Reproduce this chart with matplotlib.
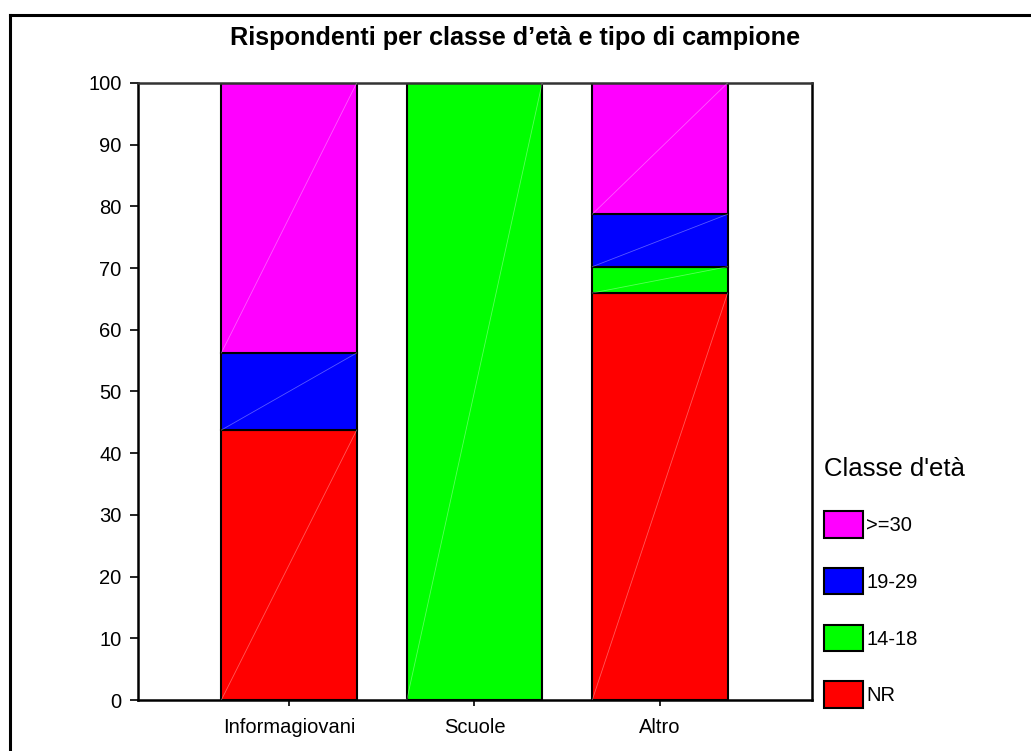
import matplotlib.pyplot as plt
from matplotlib.lines import Line2D
from matplotlib.patches import Patch
import numpy as np

plt.rcParams['font.family'] = ['Liberation Sans', 'DejaVu Sans']

# data (percent of respondents per sample type)
categories = ['Informagiovani', 'Scuole', 'Altro']
age_classes = ['NR', '14-18', '19-29', '>=30']
nr = [43.75, 0, 65.96]
eta_14_18 = [0, 100, 4.26]
eta_19_29 = [12.5, 0, 8.51]
over_30 = [43.75, 0, 21.28]
yticks = [0, 10, 20, 30, 40, 50, 60, 70, 80, 90, 100]

colours = {'NR': '#FF0000', '14-18': '#00FF00', '19-29': '#0000FF', '>=30': '#FF00FF'}
series = {'NR': nr, '14-18': eta_14_18, '19-29': eta_19_29, '>=30': over_30}

fig = plt.figure(figsize=(10.31, 7.51), dpi=100)
ax = fig.add_axes([0.1339, 0.0679, 0.6537, 0.8216])

x = np.arange(len(categories))
bottom = np.zeros(len(categories))
for key in age_classes:
    vals = np.array(series[key], dtype=float)
    for i in range(len(categories)):
        if vals[i] <= 0:
            continue
        bar = ax.bar(x[i], vals[i], width=0.73, bottom=bottom[i], color=colours[key],
                     edgecolor='black', linewidth=1.5, zorder=2)[0]
        # faint diagonal artefact across each segment
        bx, by, bw, bh = bar.get_x(), bar.get_y(), bar.get_width(), bar.get_height()
        ax.plot([bx, bx + bw], [by, by + bh], color='white', alpha=0.35, lw=0.6, zorder=3)
    bottom += vals

ax.set_xlim(-0.814, 2.82)
ax.set_ylim(0, 100)
ax.set_yticks(yticks)
ax.set_xticks(x)
ax.set_xticklabels(categories)
ax.tick_params(axis='y', direction='out', length=6, width=1.2, labelsize=14.5, pad=6)
ax.tick_params(axis='x', direction='out', length=4, width=1.2, labelsize=14.5, pad=9)
for s in ax.spines.values():
    s.set_linewidth(1.8)
ax.spines['top'].set_color('#333333')

fig.text(0.5, 0.949, 'Rispondenti per classe d\u2019et\u00e0 e tipo di campione',
         ha='center', va='center', fontsize=18.2, fontweight='bold')

handles = [Patch(facecolor=colours[k], edgecolor='black', linewidth=1.5) for k in ['>=30', '19-29', '14-18', 'NR']]
leg = fig.legend(handles, ['>=30', '19-29', '14-18', 'NR'], title="Classe d'et\u00e0",
                 loc='upper left', bbox_to_anchor=(824 / 1031, 1 - 457 / 751),
                 frameon=False, fontsize=14.5, title_fontsize=18.5, borderpad=0,
                 handlelength=1.95, handleheight=1.65, handletextpad=0.15,
                 labelspacing=1.5, borderaxespad=0)
leg._legend_box.align = 'left'

# outer frame (top and left only visible)
fig.add_artist(Line2D([10 / 1031, 10 / 1031], [0, 1 - 15 / 751], color='black', lw=2.2, transform=fig.transFigure))
fig.add_artist(Line2D([10 / 1031, 1], [1 - 15 / 751, 1 - 15 / 751], color='black', lw=2.2, transform=fig.transFigure))

fig.savefig('out.png', dpi=100)
